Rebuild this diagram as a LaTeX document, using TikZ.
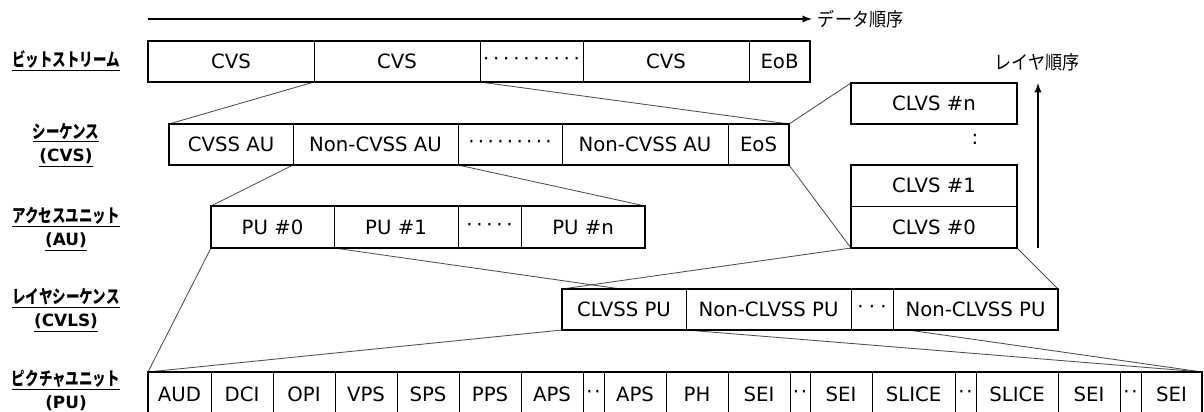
\documentclass[tikz,border=0pt]{standalone}
\usepackage{fontspec}
\setmainfont{DejaVu Sans}
\newfontfamily\jpfont{Noto Sans CJK JP}[FakeStretch=0.9]
\newfontfamily\jplabel{Noto Sans CJK JP}[FakeStretch=0.74]
\newcommand{\gapdots}[2]{\foreach \k in {2,...,#1}{·\kern#2}·}
\pgfdeclarelayer{background}
\pgfsetlayers{background,main}

\begin{document}
\begin{tikzpicture}[x=0.025cm,y=-0.025cm,>=latex]
		\tikzstyle{cell} = [draw, line width=0.5pt, fill=white, anchor=west, minimum height=1.025cm, inner sep=0pt, outer sep=0pt, font=\fontsize{14}{16}\selectfont]
		\tikzstyle{pucell} = [cell, minimum height=1.1cm]
		\tikzstyle{outline} = [line width=1.6pt]
		\tikzstyle{fan} = [line width=0.6pt, black!70]
		\tikzstyle{order} = [line width=1.3pt, ->]
		\tikzstyle{lbl} = [align=center, font=\jplabel\bfseries\fontsize{13}{16.5}\selectfont]
		\tikzstyle{ordlbl} = [font=\jpfont\fontsize{13.5}{16}\selectfont]

		\useasboundingbox (0,0) rectangle (1204,412);

		% left labels
		\node[lbl] (lBits) at (66,61) {\underline{ビットストリーム}};
		\node[lbl] (lSeq) at (66,145) {\underline{シーケンス}\\\underline{\rmfamily\bfseries\fontsize{12}{16.5}\selectfont (CVS)}};
		\node[lbl] (lAU) at (66,229) {\underline{アクセスユニット}\\\underline{\rmfamily\bfseries\fontsize{12}{16.5}\selectfont (AU)}};
		\node[lbl] (lLayer) at (66,310) {\underline{レイヤシーケンス}\\\underline{\rmfamily\bfseries\fontsize{12}{16.5}\selectfont (CVLS)}};
		\node[lbl] (lPU) at (66,392) {\underline{ピクチャユニット}\\\underline{\rmfamily\bfseries\fontsize{12}{16.5}\selectfont (PU)}};

		% data order / layer order
		\coordinate (dStart) at (148,19);
		\node[ordlbl, anchor=west, inner sep=4pt] (dataLbl) at (812,19) {データ順序};
		\draw[order] (dStart) -- (dataLbl.west);
		\node[ordlbl] (layerLbl) at (1037,62) {レイヤ順序};
		\coordinate (lStart) at (1038,248);
		\coordinate (lEnd) at (1038,83);
		\draw[order] (lStart) -- (lEnd);

		% bitstream
		\node[cell, minimum width=4.15cm] (cvsA) at (148,61.5) {CVS};
		\node[cell, minimum width=4.15cm] (cvsB) at (314,61.5) {CVS};
		\node[cell, minimum width=2.575cm] (cvsDots) at (480,61.5) {\gapdots{10}{2.7pt}};
		\node[cell, minimum width=4.15cm] (cvsC) at (583,61.5) {CVS};
		\node[cell, minimum width=1.525cm] (eob) at (749,61.5) {EoB};
		\draw[outline] (cvsA.north west) rectangle (eob.south east);

		% sequence
		\node[cell, minimum width=3.1cm] (cvssAU) at (169,144.5) {CVSS AU};
		\node[cell, minimum width=4.125cm] (ncvssA) at (293,144.5) {Non-CVSS AU};
		\node[cell, minimum width=2.6cm] (auDots) at (458,144.5) {\gapdots{9}{2.4pt}};
		\node[cell, minimum width=4.15cm] (ncvssB) at (562,144.5) {Non-CVSS AU};
		\node[cell, minimum width=1.525cm] (eos) at (728,144.5) {EoS};
		\draw[outline] (cvssAU.north west) rectangle (eos.south east);

		% access unit
		\node[cell, minimum width=3.075cm, minimum height=1.05cm] (pu0) at (211,227) {PU \#0};
		\node[cell, minimum width=3.1cm, minimum height=1.05cm] (pu1) at (334,227) {PU \#1};
		\node[cell, minimum width=1.575cm, minimum height=1.05cm] (puDots) at (458,227) {\gapdots{5}{2.7pt}};
		\node[cell, minimum width=3.1cm, minimum height=1.05cm] (puN) at (521,227) {PU \#n};
		\draw[outline] (pu0.north west) rectangle (puN.south east);

		% layers
		\node[cell, minimum width=4.15cm] (clvsN) at (851,103.5) {CLVS \#n};
		\node[font=\fontsize{14}{16}\selectfont] (vdots) at (975,139) {:};
		\node[cell, minimum width=4.15cm] (clvs1) at (851,185.5) {CLVS \#1};
		\node[cell, minimum width=4.15cm, minimum height=1.05cm] (clvs0) at (851,227) {CLVS \#0};
		\draw[outline] (clvsN.north west) rectangle (clvsN.south east);
		\draw[outline] (clvs1.north west) rectangle (clvs0.south east);

		% layer sequence
		\node[cell, minimum width=3.1cm] (clvssPU) at (562,309.5) {CLVSS PU};
		\node[cell, minimum width=4.125cm] (nclvssA) at (686,309.5) {Non-CLVSS PU};
		\node[cell, minimum width=1.05cm] (clvsDots) at (851,309.5) {\gapdots{3}{3.8pt}};
		\node[cell, minimum width=4.125cm] (nclvssB) at (893,309.5) {Non-CLVSS PU};
		\draw[outline] (clvssPU.north west) rectangle (nclvssB.south east);

		% picture unit
		\node[pucell, minimum width=1.575cm] (aud) at (148,394) {AUD};
		\node[pucell, minimum width=1.55cm] (dci) at (211,394) {DCI};
		\node[pucell, minimum width=1.55cm] (opi) at (273,394) {OPI};
		\node[pucell, minimum width=1.55cm] (vps) at (335,394) {VPS};
		\node[pucell, minimum width=1.55cm] (sps) at (397,394) {SPS};
		\node[pucell, minimum width=1.55cm] (pps) at (459,394) {PPS};
		\node[pucell, minimum width=1.55cm] (apsA) at (521,394) {APS};
		\node[pucell, minimum width=0.525cm] (pDotsA) at (583,394) {\gapdots{2}{1.2pt}};
		\node[pucell, minimum width=1.55cm] (apsB) at (604,394) {APS};
		\node[pucell, minimum width=1.55cm] (ph) at (666,394) {PH};
		\node[pucell, minimum width=1.55cm] (seiA) at (728,394) {SEI};
		\node[pucell, minimum width=0.5cm] (pDotsB) at (790,394) {\gapdots{2}{1.2pt}};
		\node[pucell, minimum width=1.55cm] (seiB) at (810,394) {SEI};
		\node[pucell, minimum width=2.075cm] (sliceA) at (872,394) {SLICE};
		\node[pucell, minimum width=0.525cm] (pDotsC) at (955,394) {\gapdots{2}{1.2pt}};
		\node[pucell, minimum width=2.05cm] (sliceB) at (976,394) {SLICE};
		\node[pucell, minimum width=1.55cm] (seiC) at (1058,394) {SEI};
		\node[pucell, minimum width=0.525cm] (pDotsD) at (1120,394) {\gapdots{2}{1.2pt}};
		\node[pucell, minimum width=1.525cm] (seiD) at (1141,394) {SEI};
		\draw[outline] (aud.north west) rectangle (seiD.south east);

		\begin{pgfonlayer}{background}
		\draw[fan] (cvsB.south west) -- (cvssAU.north west);
		\draw[fan] (cvsB.south east) -- (eos.north east);
		\draw[fan] (ncvssA.south west) -- (pu0.north west);
		\draw[fan] (ncvssA.south east) -- (puN.north east);
		\draw[fan] (eos.north east) -- (clvsN.north west);
		\draw[fan] (eos.south east) -- (clvs0.south west);
		\draw[fan] (pu0.south west) -- (aud.north west);
		\draw[fan] (pu0.south east) -- (seiD.north east);
		\draw[fan] (clvs0.south west) -- (clvssPU.north west);
		\draw[fan] (clvs0.south east) -- (nclvssB.north east);
		\draw[fan] (clvssPU.south west) -- (aud.north west);
		\draw[fan] (clvssPU.south east) -- (seiD.north east);
		\end{pgfonlayer}
\end{tikzpicture}
\end{document}
